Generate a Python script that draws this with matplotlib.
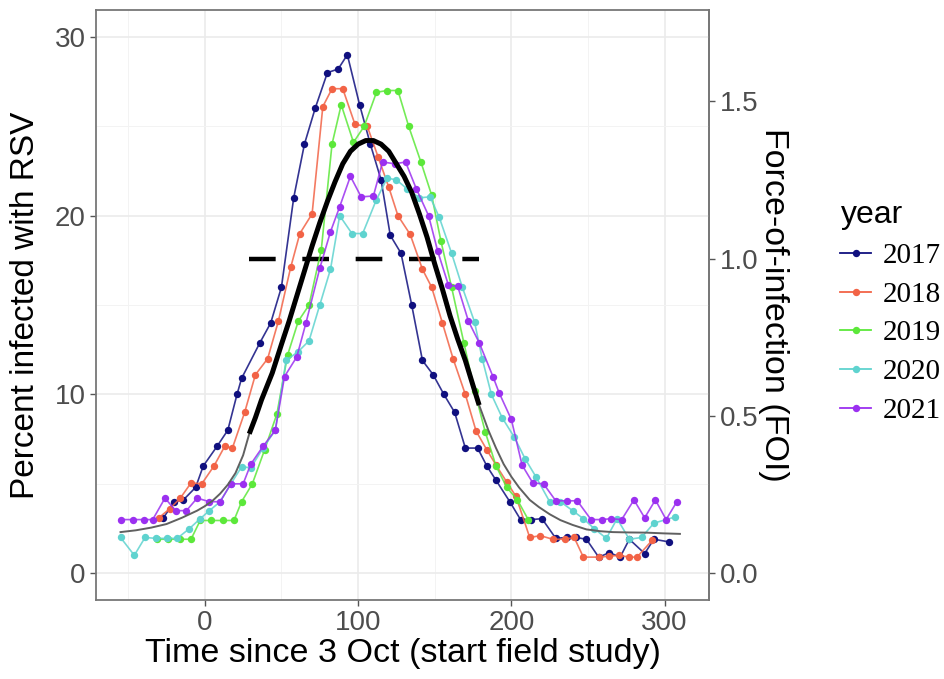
import numpy as np
import matplotlib
matplotlib.use("Agg")
import matplotlib.pyplot as plt
from matplotlib.lines import Line2D

# RSV prevalence per season (days since 3 Oct vs percent infected)
years = ["2017", "2018", "2019", "2020", "2021"]
colors = ["#10107f", "#f26346", "#5ce83a", "#5fd3cf", "#9b30f0"]

x_2017 = [-27, -20, -14, -6, -1, 8, 15, 21, 24, 36, 43, 50, 58, 65, 72, 80, 87, 93, 101, 108,
          115, 121, 128, 135, 142, 149, 156, 163, 170, 178, 184, 190, 199, 206, 213, 220, 229,
          236, 242, 249, 257, 264, 271, 277, 287, 293, 303]
y_2017 = [3.1, 4.0, 4.1, 4.8, 6.0, 7.1, 8.0, 10.0, 10.9, 12.9, 14.0, 16.0, 21.0, 24.0, 26.0,
          28.0, 28.2, 29.0, 26.2, 24.0, 22.0, 18.9, 17.9, 15.0, 11.9, 11.1, 10.0, 9.0, 7.0, 7.0,
          6.0, 5.2, 4.0, 3.0, 3.0, 3.05, 1.95, 2.0, 2.0, 1.9, 0.9, 1.15, 0.9, 1.9, 1.1, 1.9, 1.75]

x_2018 = [-30, -23, -16, -9, -2, 6, 13, 18, 26, 33, 41, 48, 56, 62, 70, 77, 83, 90, 98, 106,
          113, 120, 126, 134, 142, 148, 155, 162, 170, 177, 184, 190, 197, 203, 212, 219, 227,
          235, 241, 247, 257, 264, 270, 277, 282, 292]
y_2018 = [3.1, 3.6, 4.2, 5.05, 5.0, 6.0, 7.1, 7.0, 9.0, 11.1, 12.0, 14.1, 17.1, 19.0, 20.1,
          26.1, 27.1, 27.1, 25.1, 25.0, 23.3, 21.6, 20.0, 18.95, 17.0, 16.0, 14.0, 12.0, 10.0,
          7.95, 6.9, 6.05, 5.1, 4.3, 2.0, 2.1, 1.9, 1.9, 2.0, 0.9, 0.9, 0.95, 1.0, 0.9, 0.9, 1.85]

x_2019 = [-31, -24, -16, -9, -3, 4, 12, 19, 24, 31, 39, 47, 54, 61, 68, 76, 83, 89, 97, 104,
          112, 119, 126, 133, 141, 148, 154, 161, 169, 176, 183, 190, 197, 204, 211]
y_2019 = [1.9, 1.9, 1.9, 1.9, 2.95, 2.95, 2.95, 2.95, 4.0, 5.0, 6.9, 8.9, 12.2, 14.1, 15.0,
          18.1, 24.0, 26.2, 24.1, 25.0, 26.9, 27.0, 27.0, 25.0, 23.0, 21.15, 18.6, 16.0, 12.9,
          10.2, 7.9, 6.0, 4.8, 4.1, 3.0]

x_2020 = [-55, -46, -39, -32, -25, -18, -10, -3, 3, 10, 17, 24, 30, 38, 46, 53, 61, 68, 75, 82,
          88, 96, 103, 112, 119, 125, 132, 140, 147, 153, 161, 168, 176, 181, 187, 194, 202, 209,
          216, 225, 232, 240, 247, 254, 262, 269, 277, 285, 293, 307]
y_2020 = [2.0, 1.0, 2.0, 1.95, 1.95, 1.95, 2.5, 3.05, 3.5, 4.0, 5.0, 5.95, 5.9, 7.0, 8.0, 11.9,
          12.4, 13.0, 15.0, 17.0, 20.0, 19.0, 19.0, 20.9, 22.1, 22.0, 21.5, 21.0, 21.05, 19.9,
          17.9, 16.0, 14.05, 12.0, 10.0, 8.7, 7.6, 6.4, 5.4, 4.0, 4.0, 3.5, 3.05, 2.5, 1.95,
          3.05, 1.9, 2.0, 2.8, 3.15]

x_2021 = [-55, -47, -40, -34, -26, -19, -12, -5, 3, 10, 17, 25, 30, 38, 46, 52, 60, 66, 75, 82,
          88, 95, 102, 110, 116, 124, 131, 138, 146, 152, 159, 165, 172, 179, 188, 192, 200, 207,
          214, 221, 229, 236, 243, 252, 259, 265, 272, 280, 287, 294, 301, 308]
y_2021 = [3.0, 3.0, 3.0, 3.0, 4.2, 3.5, 3.5, 4.2, 4.0, 4.0, 5.0, 5.0, 6.1, 7.1, 8.0, 11.0,
          12.1, 14.0, 17.05, 19.1, 20.5, 22.2, 21.05, 21.1, 23.0, 22.9, 23.0, 21.5, 20.0, 18.0,
          16.1, 16.05, 14.1, 12.9, 11.0, 10.1, 8.6, 6.05, 5.05, 5.0, 4.05, 4.05, 4.05, 3.0, 3.0,
          3.05, 3.0, 4.1, 3.1, 4.1, 3.0, 4.0]

series_x = [x_2017, x_2018, x_2019, x_2020, x_2021]
series_y = [y_2017, y_2018, y_2019, y_2020, y_2021]

# fitted prevalence curve (thin grey), thick black where FOI window applies
curve_days = [-55, -45, -35, -25, -15, -5, 0, 5, 10, 15, 20, 25, 29, 33, 37, 44, 50, 55, 60, 65,
              70, 75, 80, 85, 90, 95, 100, 105, 110, 115, 120, 125, 130, 135, 140, 145, 150, 155,
              160, 165, 170, 175, 179, 185, 190, 195, 200, 205, 212, 218, 225, 232, 240, 249,
              258, 266, 277, 288, 299, 310]
curve_pct = [2.3, 2.4, 2.55, 2.75, 3.1, 3.5, 3.75, 4.05, 4.45, 4.95, 5.6, 6.6, 7.8, 8.7, 9.7,
             11.2, 12.8, 14.1, 15.5, 16.9, 18.3, 19.6, 20.8, 21.9, 22.9, 23.6, 24.0, 24.2, 24.2,
             24.0, 23.6, 22.9, 22.2, 21.3, 20.1, 18.8, 17.3, 15.9, 14.4, 13.1, 11.9, 10.5, 9.4,
             8.0, 7.0, 6.1, 5.4, 4.8, 4.1, 3.7, 3.3, 2.97, 2.7, 2.45, 2.35, 2.3, 2.28, 2.27,
             2.23, 2.2]
foi_window = (29, 179)
foi_threshold = 1.0
foi_scale = 17.6  # 1.0 on the FOI axis sits at 17.6 % on the left axis

plt.rcParams['font.family'] = ['Liberation Sans', 'DejaVu Sans']

fig = plt.figure(figsize=(9.44, 6.79), dpi=100)
ax = fig.add_axes([0.1017, 0.1163, 0.6494, 0.8689])

for yr, c, xs, ys in zip(years, colors, series_x, series_y):
    ax.plot(xs, ys, '-', color=c, lw=1.2, alpha=0.85, zorder=3)
    ax.plot(xs, ys, 'o', color=c, ms=5.3, mec='none', zorder=3)

# FOI = 1 threshold
ax.hlines(foi_threshold * foi_scale, foi_window[0], foi_window[1], colors='black',
          lw=3.2, linestyles=(0, (6.0, 6.0)), zorder=2.5)

cd = np.array(curve_days)
cp = np.array(curve_pct)
ax.plot(cd, cp, color='#606060', lw=1.4, zorder=4)
mask = (cd >= foi_window[0]) & (cd <= foi_window[1])
ax.plot(cd[mask], cp[mask], color='black', lw=3.6, solid_capstyle='butt', zorder=5)

ax.set_xlim(-71, 329)
ax.set_ylim(-1.5, 31.5)
ax.set_xticks([0, 100, 200, 300])
ax.set_xticks([-50, 50, 150, 250], minor=True)
ax.set_yticks([0, 10, 20, 30])
ax.set_yticks([5, 15, 25], minor=True)
ax.grid(which='major', color='#ebebeb', lw=1.2)
ax.grid(which='minor', color='#f3f3f3', lw=0.7)
ax.set_axisbelow(True)
ax.tick_params(which='major', length=4, width=1, color='#555555',
               labelsize=20, labelcolor='#4d4d4d')
ax.tick_params(which='minor', length=0)
for sp in ax.spines.values():
    sp.set_color('#777777')
    sp.set_linewidth(1.3)

ax.set_xlabel('Time since 3 Oct (start field study)', fontsize=24.5, labelpad=1)
ax.set_ylabel('Percent infected with RSV', fontsize=24, labelpad=10)

sec = ax.secondary_yaxis('right', functions=(lambda y: y / foi_scale, lambda f: f * foi_scale))
sec.set_yticks([0.0, 0.5, 1.0, 1.5])
sec.tick_params(length=4, width=1, color='#555555', labelsize=20, labelcolor='#4d4d4d')
sec.spines['right'].set_color('#777777')
sec.spines['right'].set_linewidth(1.3)
sec.set_ylabel('Force-of-infection (FOI)', fontsize=24.5, rotation=270, labelpad=22)

handles = [Line2D([0], [0], color=c, lw=1.3, marker='o', ms=5.3, mec='none') for c in colors]
leg = fig.legend(handles, years, loc='upper left', bbox_to_anchor=(0.878, 0.722),
                 frameon=False, prop={'family': 'Liberation Serif', 'size': 21},
                 handlelength=1.05, handletextpad=0.4, labelspacing=0.42,
                 borderaxespad=0, alignment='left')
leg.set_title('year', prop={'family': 'Liberation Sans', 'size': 23})

fig.savefig('out.png', dpi=100)
